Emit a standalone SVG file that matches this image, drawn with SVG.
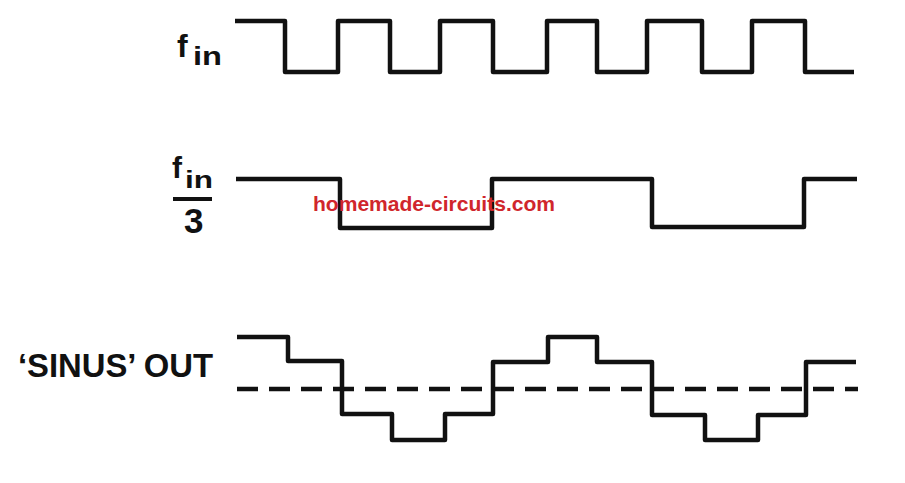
<svg xmlns="http://www.w3.org/2000/svg" width="905" height="483" viewBox="0 0 905 483">
<style>
.w{fill:none;stroke:#111;stroke-width:4.5;stroke-linejoin:round;stroke-linecap:butt}
.d{fill:none;stroke:#111;stroke-width:4.5;stroke-dasharray:21 11}
.l{font-family:"Liberation Sans",Arial,sans-serif;font-weight:bold;fill:#111}
.wm{font-family:"Liberation Sans",Arial,sans-serif;font-weight:bold;fill:#d0262c;font-size:21px}
</style>
<rect width="905" height="483" fill="#fff"/>
<g id="fin">
<text class="l" x="177" y="57" font-size="32">f</text>
<text class="l" x="193" y="65" font-size="26" textLength="29" lengthAdjust="spacingAndGlyphs">in</text>
<path class="w" d="M235 21H285V72H338V21H390V72H440V21H493V72H547V21H597V72H647V21H702V72H752V21H805V72H854"/>
</g>
<g id="fin3">
<text class="l" x="172" y="178" font-size="30">f</text>
<text class="l" x="185" y="188" font-size="24" textLength="28" lengthAdjust="spacingAndGlyphs">in</text>
<line x1="173" y1="199" x2="212" y2="199" stroke="#111" stroke-width="4"/>
<text class="l" x="184" y="233" font-size="35">3</text>
<path class="w" d="M236 179H340V228H492V179H652V227H804V179H857"/>
</g>
<g id="sinus">
<text class="l" x="18" y="377" font-size="34" textLength="195" lengthAdjust="spacingAndGlyphs">‘SINUS’ OUT</text>
<line class="d" x1="237" y1="389" x2="858" y2="389"/>
<path class="w" d="M237 337H288V361H342V414H392V440H445V414H493V362H548V337H597V362H652V415H705V440H758V415H806V362H856"/>
</g>
<text class="wm" x="313" y="211" textLength="242" lengthAdjust="spacingAndGlyphs">homemade-circuits.com</text>
</svg>
